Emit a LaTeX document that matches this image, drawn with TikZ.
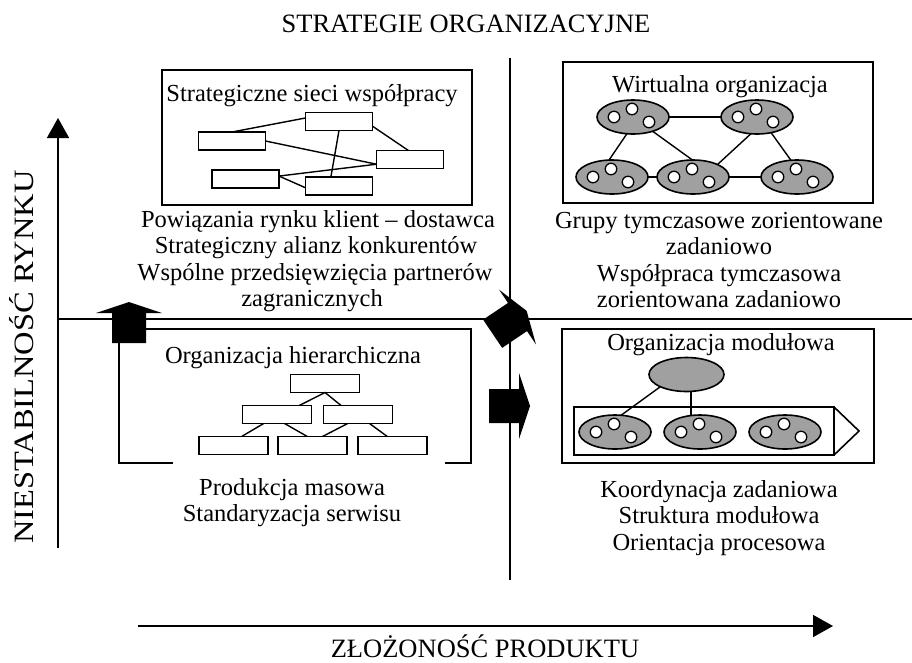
\documentclass[tikz,border=0pt]{standalone}
\usepackage{fontspec}
\setmainfont{Liberation Serif}
\usetikzlibrary{arrows.meta,shapes.geometric}
\definecolor{cellgray}{RGB}{160,160,160}

\tikzset{
  every node/.style={inner sep=0pt,outer sep=0pt},
  lbl/.style={anchor=base,font=\fontsize{24.5}{27}\selectfont},
  head/.style={anchor=base,font=\fontsize{26.5}{30}\selectfont},
  frame/.style={draw,line width=1.7pt},
  unit/.style={draw,line width=1.6pt,minimum width=67pt,minimum height=18pt},
  link/.style={line width=1.4pt},
  grp/.style={ellipse,draw,line width=1.6pt,fill=cellgray,minimum width=72pt,minimum height=34pt},
  dot/.style={circle,draw,line width=1.3pt,fill=white,minimum size=11.5pt},
  axis/.style={line width=1.6pt,-{Triangle[length=20pt,width=22pt]}},
  % an ellipse holding three members
  cluster/.pic={
    \node[grp,pic actions] (-e) at (0,0) {};
    \node[dot] (-a) at (-19,0) {};
    \node[dot] (-b) at (-1,-8) {};
    \node[dot] (-c) at (16,5) {};
  },
  % short, broad block arrow pointing along local +x
  blockarrow/.pic={
    \fill (-30,-17) -- (0,-17) -- (0,-33) -- (11,0) -- (0,33) -- (0,17) -- (-30,17) -- cycle;
  }
}

\begin{document}
\begin{tikzpicture}[x=1pt,y=-1pt]
\useasboundingbox (0,0) rectangle (912,662);

% axes and quadrant dividers
\coordinate (yaxS) at (58,548);
\coordinate (yaxE) at (58,118);
\coordinate (xaxS) at (138,626);
\coordinate (xaxE) at (833,626);
\draw[axis] (yaxS) -- (yaxE);
\draw[axis] (xaxS) -- (xaxE);
\coordinate (vdivT) at (510,58);
\coordinate (vdivB) at (510,580);
\coordinate (hdivL) at (58,319);
\coordinate (hdivR) at (912,319);
\draw[line width=1.7pt] (vdivT) -- (vdivB);
\draw[line width=1.7pt] (hdivL) -- (hdivR);

\node[head] (title) at (466,32) {STRATEGIE ORGANIZACYJNE};
\node[head] (xlab) at (485,657.5) {ZŁOŻONOŚĆ PRODUKTU};
\node[head,rotate=90,font=\fontsize{28}{30}\selectfont] (ylab) at (33,357)
  {\scalebox{1.16}[1]{NIESTABILNOŚĆ RYNKU}};

% ---- strategic networks ----
\node[frame,minimum width=310pt,minimum height=135pt] (boxTL) at (317,137.5) {};
\node[lbl] (tTL) at (312,101.5) {Strategiczne sieci współpracy};
\node[unit] (r1) at (232,141) {};
\node[unit] (r2) at (339,121.5) {};
\node[unit] (r3) at (410,159.5) {};
\node[unit] (r4) at (245.5,179) {};
\node[unit] (r5) at (339,186) {};
\draw[link] (r1.north) -- (r2.174);
\draw[link] (r1.east) -- (r3.188);
\draw[link] (r4.5) -- (r3.188);
\draw[link] (r4.5) -- (r5.183);
\draw[link] (r2.south) -- (r5.132);
\draw[link] (r2.-8) -- (r3.100);
\node[lbl] (tl1) at (318,227) {Powiązania rynku klient – dostawca};
\node[lbl] (tl2) at (316,253.5) {Strategiczny alianz konkurentów};
\node[lbl] (tl3) at (315,280) {Wspólne przedsięwzięcia partnerów};
\node[lbl] (tl4) at (312,306.5) {zagranicznych};

% ---- virtual organisation ----
\node[frame,minimum width=310pt,minimum height=141pt] (boxTR) at (718,132.5) {};
\node[lbl] (tTR) at (720,92.5) {Wirtualna organizacja};
\pic (v1) at (633,117) {cluster};
\pic (v2) at (757,117) {cluster};
\pic (v3) at (612,177) {cluster};
\pic (v4) at (693,177) {cluster};
\pic (v5) at (797,177) {cluster};
\draw[link] (v1-e) -- (v2-e);
\draw[link] (v1-e.250) -- (v3-e.100);
\draw[link] (v1-e.-36) -- (v4-e.92);
\draw[link] (v2-e.250) -- (v4-e.27);
\draw[link] (v2-e.-48) -- (v5-e.110);
\draw[link] (v3-e) -- (v4-e);
\draw[link] (v4-e) -- (v5-e);
\node[lbl] (tr1) at (719,228) {Grupy tymczasowe zorientowane};
\node[lbl] (tr2) at (719,254.5) {zadaniowo};
\node[lbl] (tr3) at (719,281) {Współpraca tymczasowa};
\node[lbl] (tr4) at (719,307.5) {zorientowana zadaniowo};

% ---- hierarchical organisation ----
\draw[frame] (146,329) -- (471,329) -- (471,463) -- (445,463);
\draw[frame] (119,343) -- (119,463) -- (173,463);
\node[lbl] (tBL) at (293,363) {Organizacja hierarchiczna};
\node[unit,minimum width=69pt] (h0) at (325,383.5) {};
\node[unit,minimum width=69pt] (hl) at (277,414.5) {};
\node[unit,minimum width=69pt] (hr) at (358,414.5) {};
\node[unit,minimum width=69pt] (b1) at (233.5,445.5) {};
\node[unit,minimum width=69pt] (b2) at (312.5,445.5) {};
\node[unit,minimum width=69pt] (b3) at (392.5,445.5) {};
\draw[link] (hl.22) -- (h0.south) -- (hr.152);
\draw[link] (b1.48) -- (hl.214);
\draw[link] (hl.-50) -- (b2.120);
\draw[link] (hr.221) -- (b2.42);
\draw[link] (hr.-38) -- (b3.120);
\node[lbl] (bl1) at (292,495) {Produkcja masowa};
\node[lbl] (bl2) at (292,521.5) {Standaryzacja serwisu};

% ---- modular organisation ----
\node[frame,minimum width=312pt,minimum height=134pt] (boxBR) at (718,396) {};
\node[lbl] (tBR) at (721,350.5) {Organizacja modułowa};
\node[grp,minimum width=75pt,minimum height=34pt] (m0) at (686.5,374.5) {};
\draw[line width=1.6pt] (574,407) rectangle (834,455);
\draw[line width=1.6pt] (834,407) -- (859,431) -- (834,455);
\pic[minimum width=73pt,minimum height=38pt] (m1) at (615,432) {cluster};
\pic[minimum width=73pt,minimum height=38pt] (m2) at (700,432) {cluster};
\pic[minimum width=73pt,minimum height=38pt] (m3) at (785,432) {cluster};
\draw[link] (m0.205) -- (m1-e.70);
\draw[link] (m0.-75) -- (m0.-75 |- m2-e.north);
\node[lbl] (br1) at (719,497) {Koordynacja zadaniowa};
\node[lbl] (br2) at (719,523.5) {Struktura modułowa};
\node[lbl] (br3) at (719,550) {Orientacja procesowa};

% ---- transition arrows ----
\pic[rotate=90] at (129,313) {blockarrow};
\pic[rotate=34] at (517.5,317) {blockarrow};
\pic at (519,406) {blockarrow};
\end{tikzpicture}
\end{document}
